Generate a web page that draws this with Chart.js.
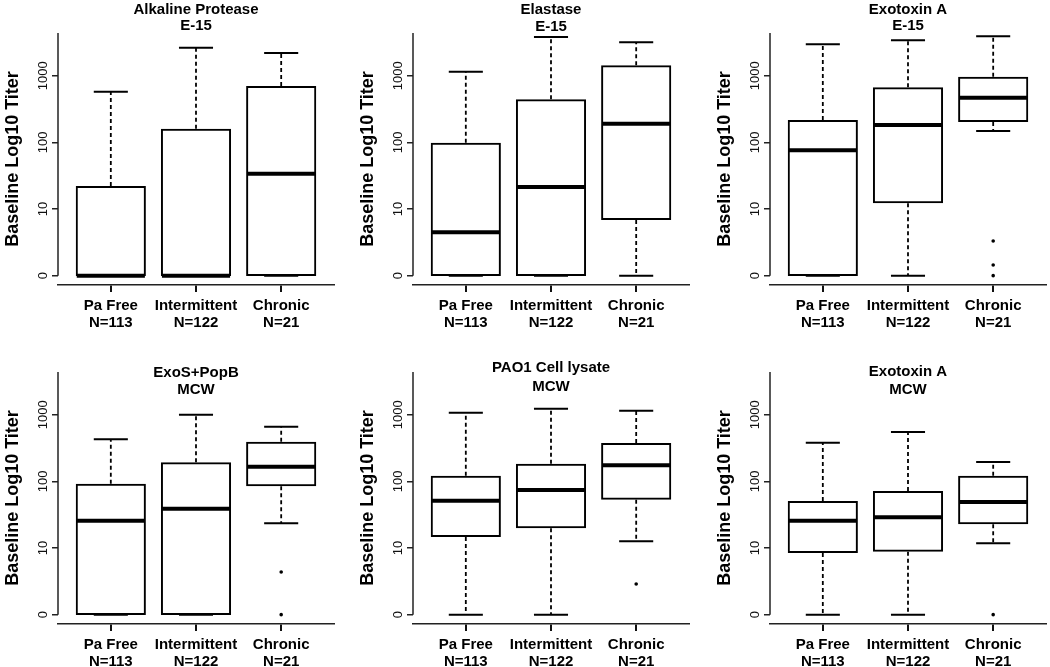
<!DOCTYPE html>
<html>
<head>
<meta charset="utf-8">
<script src="https://cdn.jsdelivr.net/npm/chart.js@4.4.1/dist/chart.umd.min.js"></script>
<style>
  body { margin: 0; background: #fff; }
  #wrap { position: relative; width: 1050px; height: 667px; }
  .panel { position: absolute; width: 338px; height: 333px; }
</style>
</head>
<body>
<div id="wrap"></div>
<script>
const groups = ['Pa Free', 'Intermittent', 'Chronic'];
const groupN = ['N=113', 'N=122', 'N=21'];
const titles = [
    ['Alkaline Protease', 'E-15'],
    ['Elastase', 'E-15'],
    ['Exotoxin A', 'E-15'],
    ['ExoS+PopB', 'MCW'],
    ['PAO1 Cell lysate', 'MCW'],
    ['Exotoxin A', 'MCW']
];
const yTicks = [0, 1, 2, 3];
const yTickLabels = ['0', '10', '100', '1000'];

// log10 titer, one row per panel, one value per group
const whiskerLow = [
    [0, 0, 0],
    [0, 0, 0],
    [0, 0, 2.17],
    [0, 0, 1.37],
    [0, 0, 1.10],
    [0, 0, 1.07]
];
const q1 = [
    [0, 0, 0],
    [0, 0, 0.85],
    [0, 1.10, 2.32],
    [0, 0, 1.94],
    [1.18, 1.31, 1.74],
    [0.94, 0.96, 1.37]
];
const medians = [
    [0, 0, 1.53],
    [0.65, 1.33, 2.28],
    [1.88, 2.26, 2.67],
    [1.41, 1.59, 2.22],
    [1.71, 1.87, 2.24],
    [1.41, 1.46, 1.69]
];
const q3 = [
    [1.33, 2.19, 2.83],
    [1.98, 2.63, 3.14],
    [2.32, 2.81, 2.97],
    [1.95, 2.27, 2.58],
    [2.07, 2.25, 2.56],
    [1.69, 1.84, 2.07]
];
const whiskerHigh = [
    [2.76, 3.42, 3.34],
    [3.06, 3.58, 3.50],
    [3.47, 3.53, 3.59],
    [2.63, 3.00, 2.82],
    [3.03, 3.09, 3.06],
    [2.58, 2.74, 2.29]
];
// outliers as [group number, value]
const outliers = [
    [],
    [],
    [[3, 0.52], [3, 0.16], [3, 0]],
    [[3, 0.64], [3, 0]],
    [[3, 0.46]],
    [[3, 0]]
];

// panel placement
const panelLeft = [0, 355, 712, 0, 355, 712];
const panelTop = [0, 0, 0, 339, 339, 339];
const titleY = [[10, 26], [10, 27], [10, 26], [34, 51], [29, 48], [33, 51]];

const FONT = "'Liberation Sans', Arial, Helvetica, sans-serif";
const wrap = document.getElementById('wrap');

function makePanel(p) {
    const div = document.createElement('div');
    div.className = 'panel';
    div.style.left = panelLeft[p] + 'px';
    div.style.top = panelTop[p] + 'px';
    const canvas = document.createElement('canvas');
    canvas.width = 338;
    canvas.height = 333;
    div.appendChild(canvas);
    wrap.appendChild(div);

    // whiskers, caps, medians, axis line, tick labels, title
    const boxPlot = {
        id: 'boxPlot' + p,
        afterDatasetsDraw(chart) {
            const { ctx, chartArea, scales: { y } } = chart;
            const bars = chart.getDatasetMeta(0).data;
            ctx.save();
            ctx.strokeStyle = '#000';
            bars.forEach((bar, i) => {
                const cx = bar.x;
                const half = bar.width / 2;
                const cap = half / 2;
                const yl = y.getPixelForValue(whiskerLow[p][i]);
                const yq1 = y.getPixelForValue(q1[p][i]);
                const yq3 = y.getPixelForValue(q3[p][i]);
                const yh = y.getPixelForValue(whiskerHigh[p][i]);
                const ym = y.getPixelForValue(medians[p][i]);

                ctx.lineWidth = 1.8;
                ctx.setLineDash([4, 3]);
                ctx.beginPath();
                ctx.moveTo(cx, yq3 - 1);
                ctx.lineTo(cx, yh);
                if (yl - yq1 > 1) {
                    ctx.moveTo(cx, yq1 + 1);
                    ctx.lineTo(cx, yl);
                }
                ctx.stroke();

                ctx.setLineDash([]);
                ctx.lineWidth = 2;
                ctx.beginPath();
                ctx.moveTo(cx - cap, yh);
                ctx.lineTo(cx + cap, yh);
                ctx.moveTo(cx - cap, yl);
                ctx.lineTo(cx + cap, yl);
                ctx.stroke();

                ctx.lineWidth = 4;
                ctx.beginPath();
                ctx.moveTo(cx - half, ym);
                ctx.lineTo(cx + half, ym);
                ctx.stroke();
            });

            // y axis line from 0 to top
            ctx.strokeStyle = '#222';
            ctx.lineWidth = 1.5;
            ctx.beginPath();
            ctx.moveTo(chartArea.left, y.getPixelForValue(0));
            ctx.lineTo(chartArea.left, chartArea.top);
            ctx.stroke();

            // rotated tick labels
            ctx.fillStyle = '#111';
            ctx.font = '13px ' + FONT;
            ctx.textAlign = 'center';
            ctx.textBaseline = 'middle';
            yTicks.forEach((v, i) => {
                ctx.save();
                ctx.translate(chartArea.left - 15, y.getPixelForValue(v));
                ctx.rotate(-Math.PI / 2);
                ctx.fillText(yTickLabels[i], 0, 0);
                ctx.restore();
            });

            // panel title
            ctx.fillStyle = '#000';
            ctx.font = 'bold 15px ' + FONT;
            const cxTitle = (chartArea.left + chartArea.right) / 2;
            ctx.fillText(titles[p][0], cxTitle, titleY[p][0]);
            ctx.fillText(titles[p][1], cxTitle, titleY[p][1]);
            ctx.restore();
        }
    };

    new Chart(canvas, {
        type: 'bar',
        data: {
            datasets: [{
                data: groups.map((g, i) => ({ x: i + 1, y: [q1[p][i], q3[p][i]] })),
                backgroundColor: '#fff',
                borderColor: '#000',
                borderWidth: 2,
                borderSkipped: false,
                inflateAmount: 1,
                barPercentage: 0.8,
                categoryPercentage: 1.0
            }, {
                type: 'scatter',
                data: outliers[p].map(o => ({ x: o[0], y: o[1] })),
                pointRadius: 1.8,
                pointBackgroundColor: '#000',
                pointBorderWidth: 0
            }]
        },
        options: {
            responsive: false,
            animation: false,
            layout: { padding: { top: 33, right: 4, left: 0, bottom: 0 } },
            plugins: {
                legend: { display: false },
                tooltip: { enabled: false }
            },
            scales: {
                x: {
                    type: 'linear',
                    offset: false,
                    min: 0.38,
                    max: 3.62,
                    afterBuildTicks: s => { s.ticks = groups.map((g, i) => ({ value: i + 1 })); },
                    afterFit: s => { s.height = 48; },
                    grid: {
                        offset: false,
                        drawOnChartArea: false,
                        drawTicks: true,
                        tickLength: 7,
                        lineWidth: 2,
                        color: '#111'
                    },
                    border: { display: true, color: '#222', width: 1.5 },
                    ticks: {
                        autoSkip: false,
                        maxRotation: 0,
                        padding: 5,
                        color: '#000',
                        font: { family: FONT, size: 15, weight: 'bold', lineHeight: 1.15 },
                        callback: (v) => [groups[v - 1], groupN[v - 1]]
                    }
                },
                y: {
                    min: -0.14,
                    max: 3.64,
                    afterBuildTicks: s => { s.ticks = yTicks.map(v => ({ value: v })); },
                    afterFit: s => { s.width = 58; },
                    grid: {
                        drawOnChartArea: false,
                        drawTicks: true,
                        tickLength: 6,
                        lineWidth: 1.5,
                        color: '#222'
                    },
                    border: { display: false },
                    ticks: { display: false },
                    title: {
                        display: true,
                        text: 'Baseline Log10 Titer',
                        color: '#000',
                        padding: { top: 2, bottom: 0 },
                        font: { family: FONT, size: 18, weight: 'bold' }
                    }
                }
            }
        },
        plugins: [boxPlot]
    });
}

for (let p = 0; p < 6; p++) makePanel(p);
</script>
</body>
</html>
